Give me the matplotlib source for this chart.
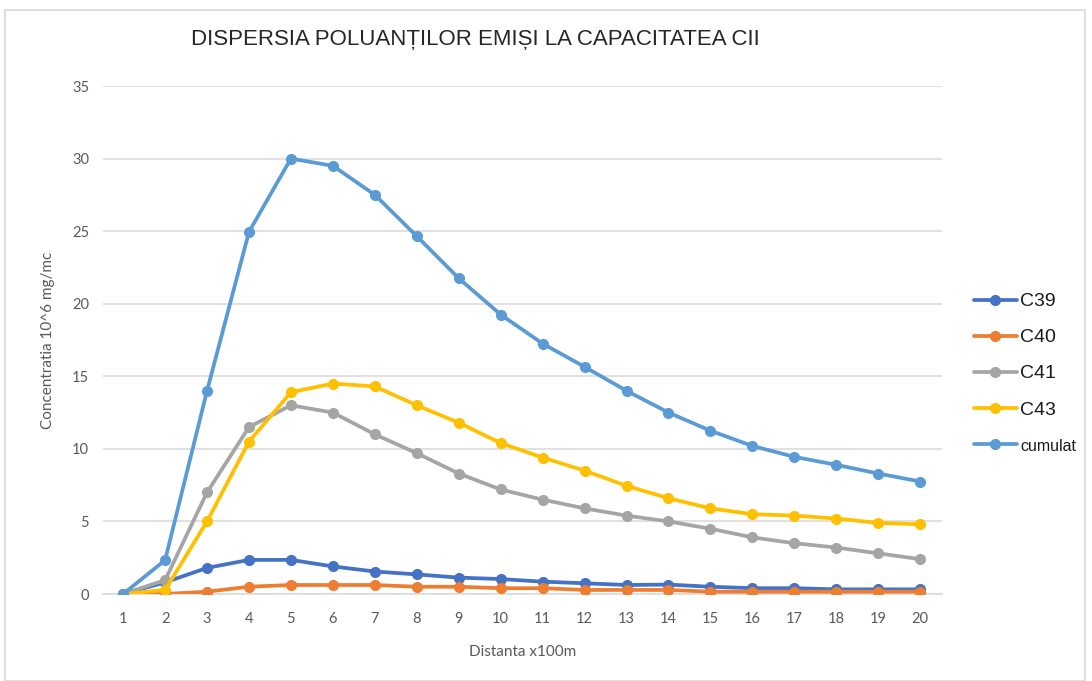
import matplotlib
matplotlib.use("Agg")
import matplotlib.pyplot as plt
from matplotlib.patches import Rectangle

distances = list(range(1, 21))
c39 = [0, 0.8, 1.8, 2.35, 2.35, 1.9, 1.55, 1.35, 1.13, 1.03, 0.85, 0.74, 0.62, 0.65, 0.5, 0.4, 0.4, 0.32, 0.32, 0.32]
c40 = [0, 0.0, 0.16, 0.5, 0.62, 0.62, 0.62, 0.5, 0.5, 0.4, 0.4, 0.28, 0.28, 0.28, 0.16, 0.16, 0.16, 0.16, 0.16, 0.16]
c41 = [0, 0.95, 7.0, 11.5, 13.0, 12.5, 11.0, 9.7, 8.3, 7.2, 6.5, 5.9, 5.4, 5.0, 4.5, 3.9, 3.5, 3.2, 2.8, 2.4]
c43 = [0, 0.28, 5.0, 10.5, 13.9, 14.5, 14.3, 13.0, 11.8, 10.4, 9.4, 8.5, 7.45, 6.6, 5.9, 5.5, 5.4, 5.2, 4.9, 4.8]
cumulat = [0, 2.33, 14.0, 24.95, 30.0, 29.5, 27.5, 24.65, 21.75, 19.25, 17.25, 15.65, 14.0, 12.5, 11.25, 10.2, 9.45, 8.9, 8.3, 7.75]

series_names = ["C39", "C40", "C41", "C43", "cumulat"]
series_vals = [c39, c40, c41, c43, cumulat]
colors = ["#4472C4", "#ED7D31", "#A5A5A5", "#FFC000", "#5B9BD5"]
y_ticks = [0, 5, 10, 15, 20, 25, 30, 35]

fig = plt.figure(figsize=(10.92, 6.81), dpi=100)
fig.patches.append(Rectangle((5 / 1092, 0), 1080 / 1092, 671 / 681, transform=fig.transFigure,
                             fill=False, edgecolor="#D9D9D9", linewidth=1.2))

ax = fig.add_axes([103 / 1092, 87 / 681, 839 / 1092, 508 / 681])
for name, vals, col in zip(series_names, series_vals, colors):
    ax.plot(distances, vals, color=col, linewidth=2.7, marker="o", markersize=7,
            label=name, solid_capstyle="round", zorder=3)

ax.set_xlim(0.52, 20.52)
ax.set_ylim(0, 35)
ax.set_xticks(distances)
ax.set_yticks(y_ticks)
ax.grid(axis="y", color="#D9D9D9", linewidth=1.1, zorder=0)
for s in ["top", "right", "left"]:
    ax.spines[s].set_visible(False)
ax.spines["bottom"].set_color("#D9D9D9")
ax.spines["bottom"].set_linewidth(1.1)
ax.tick_params(length=0, labelsize=10.5, labelcolor="#595959", pad=13)
ax.tick_params(axis="y", pad=10)
for lbl in ax.get_xticklabels() + ax.get_yticklabels():
    lbl.set_family("Lato")

ax.set_xlabel("Distanta x100m", fontsize=11, color="#595959", family="Lato", labelpad=14)
ax.set_ylabel("Concentratia 10^6 mg/mc", fontsize=11, color="#595959", family="Lato", labelpad=12)

fig.text(475 / 1092, 1 - 40 / 681, "DISPERSIA POLUANȚILOR EMIȘI LA CAPACITATEA CII",
         ha="center", va="center", fontsize=16, color="#262626", family="Liberation Sans")

leg = ax.legend(loc="center left", bbox_to_anchor=(966 / 1092, 0.452), bbox_transform=fig.transFigure,
                frameon=False, handlelength=2.2, handletextpad=0.2, labelspacing=0.95,
                borderaxespad=0, prop={"family": "Liberation Sans", "size": 14})
for t in leg.get_texts():
    t.set_color("#1a1a1a")
leg.get_texts()[-1].set_fontsize(11.5)

fig.savefig("out.png", dpi=100, facecolor="white")
